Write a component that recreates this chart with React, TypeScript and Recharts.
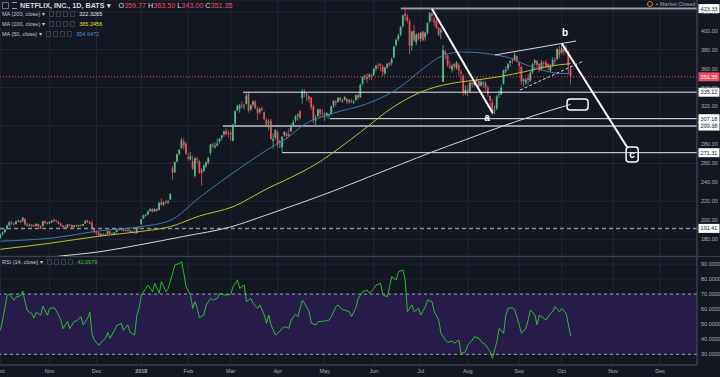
import React from 'react';
import {
  ComposedChart,
  Bar,
  Line,
  XAxis,
  YAxis,
  CartesianGrid,
  ReferenceLine,
  ReferenceArea,
  ReferenceDot
} from 'recharts';

// open, high, low, close — one row per trading day
type Candle = [number, number, number, number];

const oct17: Candle[] = [
  [181.5, 186, 180.5, 184.5], [185, 188, 184, 187], [187.5, 191, 186.5, 190.5], [191, 195.5, 190, 194.5],
  [194.5, 199, 193.5, 198], [197.5, 199.5, 195, 196.5], [196.5, 197.5, 194.5, 195.5], [196, 199.5, 195.5, 199],
  [199.5, 201, 198, 199.5], [199.5, 200, 197, 198], [199, 203.5, 198.5, 202.7], [201, 202.5, 194.5, 195.5],
  [195.5, 197, 193.5, 195.5], [195, 196.5, 193.5, 195], [195.5, 196, 192.5, 194.3], [194.5, 195.5, 193, 194],
  [194, 197, 193.5, 196], [196, 196.5, 193, 193.5], [194, 194.5, 190.5, 191.5], [194, 199.5, 193.5, 199],
  [199, 200, 196, 197.5], [197.5, 198, 195.5, 196.4]
];
const nov17: Candle[] = [
  [197, 199, 196, 198], [198, 200.5, 197, 199.5], [199.5, 201.5, 198.5, 200], [200, 200.5, 197.5, 199],
  [198.5, 199, 195.5, 196.5], [196.5, 197.5, 193.5, 194.5], [194.5, 195, 191.5, 193], [193, 194.5, 191, 192.5],
  [192.5, 196, 192, 195.5], [195.5, 196.5, 193.5, 195], [195, 195.5, 191.5, 192.5], [193, 195, 192, 194.5],
  [194.5, 195.5, 193, 194], [194, 195.5, 193, 195], [195, 196, 193.5, 194.5], [194.5, 196.5, 194, 196],
  [196.5, 200, 196, 199.5], [199.5, 201, 197, 198], [198, 199, 195.5, 196.5], [197, 200, 189.5, 190.5],
  [190.5, 191.5, 186, 187.5]
];
const dec17: Candle[] = [
  [187.5, 189, 184, 186.8], [187, 188, 183, 184], [184, 186.5, 182.5, 185.5], [185.5, 186.5, 183.5, 185.2],
  [185, 186, 183.5, 185], [185.5, 189, 185, 188.5], [188.5, 189, 185.5, 186], [186, 187, 184.5, 185.5],
  [185.5, 187.5, 185, 187], [187.5, 191, 187, 190.5], [190.5, 191.5, 189, 190], [190.5, 192, 189.5, 190.8],
  [191, 191.5, 188, 189], [189, 190.5, 188.5, 189.5], [189.5, 190, 188, 188.8], [189, 190, 188, 189],
  [188.5, 189, 186.5, 187.5], [187.5, 188, 185.5, 186.2], [186.5, 193, 186, 192.7], [192.5, 194, 190.5, 191.9]
];
const jan18: Candle[] = [
  [196, 201.5, 195, 201.1], [202, 206, 201.5, 205.1], [205.5, 207, 204, 205.6], [206, 210.5, 205.5, 209.3],
  [210, 212.5, 208.5, 212], [212, 213, 208, 209.3], [209.5, 212.5, 209, 212], [212, 212.5, 208.5, 210],
  [211, 219, 210.5, 218.5], [219, 223, 215.5, 216.4], [217, 220, 215, 219], [219, 221.5, 217, 218.8],
  [219, 221, 217, 220.5], [222, 228.5, 221.5, 227.6], [255, 257, 243, 250.3], [250.5, 262, 250, 261.3],
  [262, 270, 261, 269.7], [270, 275, 268.5, 274.6], [276, 287, 275.5, 284.6], [283, 286.5, 274.5, 278.8],
  [281, 282.5, 269, 270.3]
];
const feb18: Candle[] = [
  [267, 271.5, 263, 265.1], [264, 272, 263, 267.7], [262, 268, 253, 254.3], [247, 266, 245, 265.7],
  [265, 267, 260, 264.6], [262, 264, 249, 250.1], [253, 255, 236.5, 249.5], [252, 259, 251, 257.9],
  [257, 262, 255, 261.3], [261, 266.5, 259, 266], [271, 280.5, 269, 280.3], [280, 282, 276, 278.5],
  [277, 282, 275.5, 278.6], [279, 286, 278, 281], [283, 287, 281, 285.9], [287, 290, 284.5, 289.6],
  [291, 295, 288, 293.7], [294, 297, 289.5, 290.6], [292, 295, 287, 291.4]
];
const mar18: Candle[] = [
  [292, 295, 284, 290.4], [284, 301.5, 283, 301.1], [302, 316, 300.5, 315], [316, 322, 315, 320.4],
  [318, 323, 313.5, 321.3], [322, 325.5, 318, 321.2], [321, 322.5, 317, 321], [323, 334, 322, 331.4],
  [333, 335, 313.5, 315.9], [317, 322.5, 315, 321.4], [322, 326.5, 320, 325.6], [325, 327, 317, 318.5],
  [318, 320, 306, 313.5], [314, 319, 312, 317.5], [318, 320, 315, 316.5], [314, 315, 305.5, 306.7],
  [306, 308, 299.5, 300.9], [304, 306.5, 295, 304.2], [305, 307, 285, 285.8], [284, 292, 275.5, 285.8],
  [287, 296, 285, 295.4]
];
const apr18: Candle[] = [
  [293, 295, 276, 280.3], [282, 285, 276, 283.3], [277, 289, 271.31, 288], [290, 294, 288, 293],
  [291, 293.5, 285.5, 288.9], [291, 297, 288, 289], [294, 302, 293, 300], [299, 306, 298, 303.5],
  [306, 311, 303, 309.5], [310, 313, 305, 311.5], [315, 316, 306, 307.8], [329, 338.6, 323, 336.1],
  [336, 338, 330, 333.9], [332, 335, 326, 332.7], [331, 332, 324, 327.8], [329, 330, 316, 319],
  [320, 322, 302, 305.7], [305, 311, 299.5, 308], [310, 318, 309, 316.6], [317, 318, 309, 312.5],
  [313, 317, 309, 312.5]
];
const may18: Candle[] = [
  [311, 314, 305, 311.5], [310, 314, 308, 313], [311, 313, 307.18, 311.2], [312, 321, 311.5, 320],
  [321, 326.5, 318.5, 326], [325, 327, 320, 324], [325, 330, 324, 329], [329, 330, 325, 326.5],
  [326, 328, 324, 326], [327, 331, 326, 330], [328, 329, 322.5, 325], [325, 328, 323, 326.5],
  [326, 328.5, 323.5, 325], [325, 327, 322.5, 325], [327, 333, 326, 332], [332, 334, 327, 329],
  [330, 344, 329, 343], [344, 352, 342.5, 351], [352, 354, 348, 352], [351, 355, 345, 349],
  [351, 355, 348.5, 353.5], [353, 355, 348, 351.6]
];
const jun18: Candle[] = [
  [353, 361, 352.5, 359.9], [360, 364, 357, 362.9], [364, 366, 359.5, 363.6], [365, 365.5, 357, 363.4],
  [362, 364, 352, 356.8], [355, 362, 353, 361], [361, 366, 360, 365], [366, 367, 362, 364],
  [366, 372, 363, 370], [372, 384, 371, 383], [385, 392, 383, 390], [391, 397, 389, 395],
  [396, 405, 394, 404], [405, 417, 403, 416], [418, 423.33, 410, 415.5], [415, 418, 408, 411],
  [410, 412, 375, 384.5], [384, 400, 379, 399], [400, 406, 388, 390], [388, 397, 384.5, 396],
  [397, 398, 390, 391.4]
];
const jul18: Candle[] = [
  [392, 398.5, 388, 398], [399, 400, 389, 390], [393, 399, 389.5, 398], [398, 409, 396, 408],
  [410, 419, 408, 418.97], [418, 419.77, 410, 415.6], [411, 414, 405, 409], [410, 412, 402, 403],
  [403, 404, 394, 395.8], [398, 403, 391, 400.5], [346, 385, 346, 379.5], [378, 380, 370, 375],
  [374, 375, 362, 364], [363, 368, 360, 361], [359, 365, 356, 363], [365, 366, 358, 362],
  [361, 368, 359, 366], [364, 366, 353, 358], [357, 359, 347, 355], [352, 354, 331, 335],
  [334, 342, 332, 337.5]
];
const aug18: Candle[] = [
  [338, 343, 331, 336.5], [336, 347, 335, 345], [345, 347, 340, 343.5], [343, 348, 341, 345.5],
  [347, 351, 345, 348.5], [347, 349, 340, 341.5], [342, 348, 341, 346], [344, 347, 340, 345],
  [345, 347, 336, 340], [340, 342, 330, 333], [331, 332, 318, 326.5], [324, 328, 310.9, 315.5],
  [316, 321, 312, 316], [318, 332, 316, 330.5], [332, 337, 329, 333], [333, 343, 332, 340],
  [344, 359, 343, 358], [357, 362, 355, 358.8], [360, 366, 358, 364.6], [366, 369, 362, 368],
  [369, 371, 365, 368.5], [370, 377, 368, 374], [373, 374, 366, 367.7]
];
const sep18: Candle[] = [
  [366, 367, 356, 363], [362, 363, 343, 346.5], [347, 350, 341, 348.7], [345, 350, 343, 348.4],
  [350, 354, 343, 348], [347, 357, 346, 355.5], [356, 366, 354, 364.6], [366, 370, 363, 368.7],
  [368, 369, 361, 364], [365, 366, 356, 358], [360, 369, 358, 366.5], [366, 368, 360, 365.4],
  [367, 369, 360, 363], [365, 366, 358, 361.2], [358, 365, 356, 362.5], [364, 372, 362, 369],
  [369, 372, 364, 368], [370, 382, 369, 380.7], [380, 384, 371, 374.1]
];
const oct18: Candle[] = [
  [377, 386.7, 376, 381.4], [381, 383, 374, 377.9], [379, 384.5, 376, 381.5], [378, 379, 355, 363.4],
  [359.77, 363.5, 343, 351.35]
];

// moving averages: [trading day, value]
const ma50Pts = [
  [0, 178], [22, 181], [45, 189], [62, 193], [76, 200], [89, 224], [104, 250], [119, 274], [130, 290],
  [134, 298], [149, 313], [164, 323], [179, 341], [188, 358], [198, 374], [206, 377.5], [213, 377],
  [220, 375], [228, 371], [235, 364], [243, 358], [250, 355], [255, 354.65]
];
const ma100Pts = [
  [0, 169.4], [22, 175.7], [45, 183.5], [62, 188], [76, 193.3], [89, 204.5], [104, 214.3], [119, 233],
  [134, 250], [143, 262], [152, 277], [161, 293], [176, 320], [191, 338], [198, 342.7], [206, 346],
  [213, 348], [223, 351.5], [235, 357], [244, 362], [255, 365.25]
];
const ma200Pts = [
  [0, 154], [22, 161], [45, 167], [62, 174], [82, 183], [103, 193], [119, 205.6], [134, 218], [149, 231],
  [164, 245], [179, 259], [193, 272], [208, 285], [223, 298], [238, 310], [255, 322.33]
];

const rsiPts = [
  [0, 46], [1, 53], [3, 69], [4, 70], [6, 66], [7, 68], [9, 69], [10, 72], [11, 65], [12, 59], [14, 57],
  [15, 54], [16, 58], [18, 56], [19, 62], [21, 56], [22, 60.5], [24, 61], [25, 59], [27, 53], [28, 47],
  [30, 52], [31, 47], [33, 52], [34, 52], [36, 55], [37, 49.5], [39, 54], [40, 58], [41, 43], [42, 39.5],
  [44, 36], [45, 38], [47, 40.6], [48, 44.6], [49, 40.6], [51, 46], [52, 49], [54, 50.6], [55, 46],
  [57, 49.5], [58, 44.6], [60, 42.8], [61, 56], [62, 60.5], [63, 69.4], [65, 73.8], [66, 76], [68, 71.6],
  [69, 77.2], [71, 70.5], [72, 78.3], [74, 71.6], [75, 73.8], [77, 83.8], [78, 89.3], [80, 90.4],
  [81, 91.6], [82, 83.8], [83, 74.9], [85, 69.4], [86, 60.5], [87, 65], [88, 60.5], [89, 54.3], [91, 56.1],
  [92, 62.8], [94, 67.2], [95, 66], [97, 67.2], [98, 70.5], [100, 69.4], [101, 69.4], [103, 69.8],
  [104, 74.9], [106, 79.4], [107, 73.8], [109, 76], [110, 65], [112, 67.2], [113, 63.9], [115, 60.5],
  [116, 62.8], [118, 56.1], [119, 50.6], [120, 56.1], [121, 49.5], [123, 42.8], [124, 43.9], [126, 47.3],
  [127, 48.4], [129, 47.3], [130, 52.8], [132, 56.6], [133, 55], [135, 66], [136, 63.9], [138, 58.3],
  [139, 50.6], [141, 49.5], [142, 51.7], [145, 52.1], [147, 52.8], [148, 55], [150, 61.6], [151, 62.8],
  [153, 59.4], [154, 59.4], [156, 58.3], [157, 55], [159, 61], [160, 67.2], [162, 71.6], [164, 72.7],
  [165, 70.5], [167, 73.8], [168, 76], [170, 77.2], [171, 69.4], [173, 68.3], [174, 74.9], [175, 81.6],
  [177, 79.4], [178, 84.9], [180, 86], [181, 79.4], [182, 58.3], [184, 62.8], [185, 58.3], [187, 60.5],
  [188, 56.1], [190, 61.6], [191, 66], [193, 65], [194, 58.3], [196, 52.8], [197, 43.9], [199, 39.5],
  [200, 38], [202, 38.8], [203, 37.3], [205, 39.5], [206, 30.6], [208, 31.7], [209, 36.2], [211, 39.5],
  [212, 41.7], [214, 40.6], [215, 38.4], [217, 36.2], [219, 31.7], [220, 27.3], [222, 38.4], [223, 47.3],
  [225, 43.9], [226, 56.1], [227, 60.5], [229, 61], [230, 59.4], [232, 49.5], [233, 43.9], [235, 47.3],
  [236, 52.8], [237, 59.4], [239, 56.1], [240, 49.5], [241, 56.1], [243, 53.9], [244, 52.8], [246, 57.2],
  [247, 58.3], [248, 61.6], [250, 58.3], [251, 60.5], [253, 57.2], [255, 42.1]
];

const monthIdx = [0, 22, 43, 63, 84, 103, 124, 145, 167, 188, 209, 232, 251, 274, 295];
const monthLabels = ['Oct', 'Nov', 'Dec', '2018', 'Feb', 'Mar', 'Apr', 'May', 'Jun', 'Jul', 'Aug', 'Sep', 'Oct', 'Nov', 'Dec'];
const priceTicks = [180, 200, 220, 240, 260, 280, 300, 320, 340, 360, 380, 400, 420];
const rsiTicks = [30, 40, 50, 60, 70, 80, 90];

// horizontal levels drawn on the chart and where they start (trading day)
const levelPrices = [423.33, 335.12, 307.18, 299.38, 271.31];
const levelStarts = [179, 108.5, 147.4, 99.5, 126];
const supportPrice = 191.41;
const lastClose = 351.35;

// hand drawn wave lines: [day, price] pairs
const waveA = [[193, 423], [220.2, 312.9]];
const waveC = [[251, 386.7], [280.2, 277.3]];
const channelTop = [[221.2, 374.4], [257.4, 389.1]];
const channelBottom = [[232.4, 337.4], [260.1, 367.3]];

const BG = '#131722';
const GRID = '#232734';
const AXIS = '#474b57';
const TEXT = '#a9acb5';
const UP = '#53b987';
const DOWN = '#eb4d5c';
const FONT = '"Liberation Sans", Arial, sans-serif';
const X_DOMAIN: [number, number] = [-0.2, 311.5];

const allCandles = [...oct17, ...nov17, ...dec17, ...jan18, ...feb18, ...mar18, ...apr18, ...may18, ...jun18, ...jul18, ...aug18, ...sep18, ...oct18];
const candleData = allCandles.map(([o, h, l, c], i) => ({ i, o, h, l, c, range: [l, h] }));
const toPts = (pts: number[][]) => pts.map(([i, v]) => ({ i, v }));

const CandleShape = (props: any) => {
  const { x, y, width, height, payload } = props;
  if (!payload || x == null) return null;
  const { o, h, l, c } = payload;
  const color = c >= o ? UP : DOWN;
  const k = h === l ? 0 : height / (h - l);
  const cx = x + width / 2;
  const top = y + (h - Math.max(o, c)) * k;
  const bh = Math.max(0.8, Math.abs(o - c) * k);
  return (
    <g>
      <line x1={cx} x2={cx} y1={y} y2={y + height} stroke={color} strokeWidth={0.8} />
      <rect x={cx - 0.9} y={top} width={1.8} height={bh} fill={color} />
    </g>
  );
};

const Tag = (props: any) => {
  const { viewBox, text, bg, fg } = props;
  if (!viewBox) return null;
  const x = viewBox.x + viewBox.width + 1.5;
  const y = viewBox.y;
  return (
    <g>
      <rect x={x} y={y - 4.5} width={21} height={9} fill={bg} />
      <text x={x + 10.5} y={y + 2} textAnchor="middle" fontSize={5.5} fill={fg}>{text}</text>
    </g>
  );
};

const MonthTick = (p: any) => {
  const label = monthLabels[monthIdx.indexOf(p.payload.value)];
  return (
    <text x={p.x} y={p.y + 8} textAnchor="middle" fontSize={5.5} fill={TEXT} fontWeight={label === '2018' ? 700 : 400}>
      {label}
    </text>
  );
};

const Icons = () => (
  <span style={{ display: 'inline-flex', gap: 1.5, margin: '0 4px' }}>
    {[0, 1, 2, 3].map((k) => (
      <span key={k} style={{ width: 5.5, height: 5.5, border: '1px solid #3a3e4b', boxSizing: 'border-box', display: 'inline-block' }} />
    ))}
  </span>
);

const legendRow = (top: number, name: string, value: string, color: string) => (
  <div style={{ position: 'absolute', left: 2, top, display: 'flex', alignItems: 'center', fontSize: 5.5, color: '#c3c6ce', whiteSpace: 'nowrap' }}>
    <span>{name} ▾</span>
    <Icons />
    <span style={{ color }}>{value}</span>
  </div>
);

const levelStyles = [
  { stroke: '#9598a1', width: 2 },
  { stroke: '#e9e9ee', width: 1 },
  { stroke: '#e9e9ee', width: 1 },
  { stroke: '#9598a1', width: 2 },
  { stroke: '#e9e9ee', width: 1 }
];

export default function App() {
  return (
    <div style={{ position: 'absolute', left: 0, top: 0, width: 720, height: 377, background: BG, overflow: 'hidden', fontFamily: FONT }}>
      <div style={{ position: 'absolute', left: 0, top: 0 }}>
        <ComposedChart width={720} height={256} data={candleData} margin={{ top: 0, right: 0, bottom: 0, left: 0 }}>
          <XAxis type="number" dataKey="i" domain={X_DOMAIN} ticks={monthIdx} hide allowDataOverflow />
          <YAxis
            orientation="right"
            width={23}
            domain={[162.3, 432.4]}
            ticks={priceTicks}
            allowDataOverflow
            tickFormatter={(v: number) => v.toFixed(2)}
            tick={{ fill: TEXT, fontSize: 5.5 }}
            tickLine={false}
            tickSize={0}
            tickMargin={4}
            axisLine={{ stroke: AXIS }}
          />
          <CartesianGrid stroke={GRID} strokeWidth={1} />
          <ReferenceLine y={supportPrice} stroke="#8b8e98" strokeWidth={1.5} strokeDasharray="4 3"
            label={<Tag text={supportPrice.toFixed(2)} bg="#ffffff" fg="#131722" />} />
          <ReferenceLine y={lastClose} stroke={DOWN} strokeWidth={1} strokeDasharray="1 2"
            label={<Tag text={lastClose.toFixed(2)} bg={DOWN} fg="#ffffff" />} />
          {levelPrices.map((p, k) => (
            <ReferenceLine
              key={p}
              segment={[{ x: levelStarts[k], y: p }, { x: X_DOMAIN[1], y: p }]}
              stroke={levelStyles[k].stroke}
              strokeWidth={levelStyles[k].width}
              ifOverflow="visible"
              label={<Tag text={p.toFixed(2)} bg="#ffffff" fg="#131722" />}
            />
          ))}
          <Line data={toPts(ma200Pts)} dataKey="v" type="monotone" stroke="#d6d6da" strokeWidth={1} dot={false} activeDot={false} isAnimationActive={false} />
          <Line data={toPts(ma100Pts)} dataKey="v" type="monotone" stroke="#c2be2c" strokeWidth={1} dot={false} activeDot={false} isAnimationActive={false} />
          <Line data={toPts(ma50Pts)} dataKey="v" type="monotone" stroke="#3b7ca3" strokeWidth={1} dot={false} activeDot={false} isAnimationActive={false} />
          <Bar dataKey="range" barSize={2} shape={<CandleShape />} activeBar={false} isAnimationActive={false} />
          <ReferenceLine segment={[{ x: waveA[0][0], y: waveA[0][1] }, { x: waveA[1][0], y: waveA[1][1] }]} stroke="#ffffff" strokeWidth={2} />
          <ReferenceLine segment={[{ x: waveC[0][0], y: waveC[0][1] }, { x: waveC[1][0], y: waveC[1][1] }]} stroke="#ffffff" strokeWidth={2} />
          <ReferenceLine segment={[{ x: channelTop[0][0], y: channelTop[0][1] }, { x: channelTop[1][0], y: channelTop[1][1] }]} stroke="#d8d8de" strokeWidth={1} />
          <ReferenceLine segment={[{ x: channelBottom[0][0], y: channelBottom[0][1] }, { x: channelBottom[1][0], y: channelBottom[1][1] }]} stroke="#d8d8de" strokeWidth={1} strokeDasharray="3 2" />
          <ReferenceArea x1={253.4} x2={262.8} y1={316.3} y2={328}
            shape={(p: any) => <rect x={p.x} y={p.y} width={p.width} height={p.height} rx={3} fill={BG} stroke="#ffffff" strokeWidth={1.5} />} />
          <ReferenceArea x1={279.8} x2={285.2} y1={261.5} y2={277.3}
            shape={(p: any) => <rect x={p.x} y={p.y} width={p.width} height={p.height} rx={3} fill={BG} stroke="#ffffff" strokeWidth={1.5} />}
            label={{ value: 'c', fill: '#ffffff', fontSize: 10, fontWeight: 700, position: 'center' }} />
          <ReferenceDot x={217.6} y={309} r={0} stroke="none" label={{ value: 'a', fill: '#ffffff', fontSize: 10, fontWeight: 700 }} />
          <ReferenceDot x={252.5} y={398.6} r={0} stroke="none" label={{ value: 'b', fill: '#ffffff', fontSize: 10, fontWeight: 700 }} />
        </ComposedChart>
      </div>

      <div style={{ position: 'absolute', left: 0, top: 256, width: 720, height: 1, background: '#3b3f4b' }} />

      <div style={{ position: 'absolute', left: 0, top: 257 }}>
        <ComposedChart width={720} height={120} data={toPts(rsiPts)} margin={{ top: 0, right: 0, bottom: 0, left: 0 }}>
          <XAxis
            type="number"
            dataKey="i"
            domain={X_DOMAIN}
            ticks={monthIdx}
            interval={0}
            allowDataOverflow
            height={12}
            tick={<MonthTick />}
            tickLine={false}
            tickSize={0}
            tickMargin={0}
            axisLine={{ stroke: AXIS }}
          />
          <YAxis
            orientation="right"
            width={23}
            domain={[22.9, 94.65]}
            ticks={rsiTicks}
            interval={0}
            allowDataOverflow
            tickFormatter={(v: number) => v.toFixed(4)}
            tick={{ fill: TEXT, fontSize: 5.5 }}
            tickLine={false}
            tickSize={0}
            tickMargin={4}
            axisLine={{ stroke: AXIS }}
          />
          <ReferenceArea y1={30} y2={70} x1={X_DOMAIN[0]} x2={X_DOMAIN[1]} fill="#271c49" fillOpacity={1} stroke="none" />
          <CartesianGrid stroke={GRID} strokeWidth={1} />
          <ReferenceLine y={70} stroke="#a7a3bd" strokeDasharray="3 3" />
          <ReferenceLine y={30} stroke="#a7a3bd" strokeDasharray="3 3" />
          <Line dataKey="v" type="linear" stroke="#2cbb2c" strokeWidth={1} dot={false} activeDot={false} isAnimationActive={false} />
        </ComposedChart>
      </div>

      {/* header */}
      <div style={{ position: 'absolute', left: 2, top: 1, display: 'flex', alignItems: 'center', whiteSpace: 'nowrap' }}>
        <span style={{ width: 5, height: 5, border: '1px solid #6a6e7a', display: 'inline-block', marginRight: 3 }} />
        <span style={{ width: 5, height: 5, borderTop: '1px solid #9a9ea8', borderBottom: '1px solid #9a9ea8', display: 'inline-block', marginRight: 3 }} />
        <span style={{ fontSize: 7.2, color: '#d9dbe0', fontWeight: 700 }}>NETFLIX, INC., 1D, BATS ▾</span>
        <span style={{ fontSize: 7.2, marginLeft: 8, color: '#d9dbe0' }}>
          O<span style={{ color: DOWN }}>359.77 </span>H<span style={{ color: DOWN }}>363.50 </span>L<span style={{ color: DOWN }}>343.00 </span>C<span style={{ color: DOWN }}>351.35</span>
        </span>
      </div>
      {legendRow(11, 'MA (200, close)', '322.3265', '#e6e6ea')}
      {legendRow(21, 'MA (100, close)', '365.2456', '#e6e42c')}
      {legendRow(31, 'MA (50, close)', '354.6472', '#4b90c8')}
      <div style={{ position: 'absolute', left: 2, top: 259, display: 'flex', alignItems: 'center', fontSize: 5.5, color: '#c3c6ce', whiteSpace: 'nowrap' }}>
        <span>RSI (14, close) ▾</span>
        <Icons />
        <span style={{ color: '#35c435' }}>42.0979</span>
      </div>
      <div style={{ position: 'absolute', left: 647, top: 1, display: 'flex', alignItems: 'center', fontSize: 5.5, color: '#a9acb5', whiteSpace: 'nowrap' }}>
        <span style={{ width: 6, height: 6, borderRadius: 3, border: '1px solid #e0762c', boxSizing: 'border-box', display: 'inline-block', marginRight: 3 }} />
        <span style={{ marginRight: 2 }}>•</span>
        <span>Market Closed</span>
      </div>
    </div>
  );
}
